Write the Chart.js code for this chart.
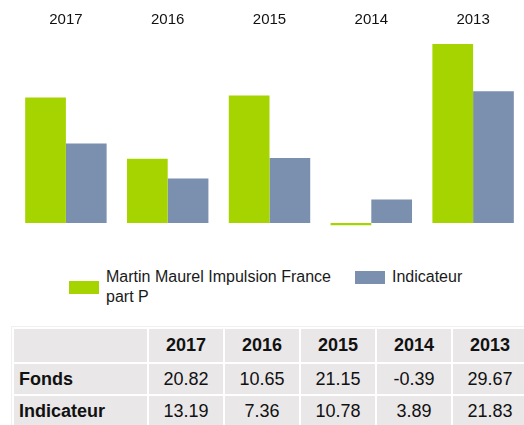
<!DOCTYPE html>
<html>
<head>
<meta charset="utf-8">
<script src="https://cdn.jsdelivr.net/npm/chart.js@4/dist/chart.umd.min.js"></script>
<style>
  html, body { margin: 0; padding: 0; background: #fff; overflow: hidden; }
  body { width: 524px; height: 425px; position: relative; font-family: "Liberation Sans", Arial, sans-serif; }
  #zone { position: absolute; left: 0; top: 0; width: 524px; height: 240px; }
  #legende { position: absolute; left: 69px; top: 267px; display: flex; align-items: flex-start; color: #1a1a1a; font-size: 16px; line-height: 20px; }
  .item { display: flex; align-items: center; }
  .carre { width: 30px; height: 13px; margin-right: 7px; flex: none; }
  #tableau { position: absolute; left: 11px; top: 326px; border-collapse: separate; border-spacing: 2px; border: 1px solid #f0f0f0; background: #fff; font-size: 18px; color: #111; table-layout: fixed; width: 517px; }
  #tableau td, #tableau th { background: #e9e7e8; padding: 0; text-align: center; }
  #tableau th { height: 33px; font-weight: bold; }
  #tableau td { height: 30px; }
  #tableau .lib { text-align: left; padding-left: 5px; font-weight: bold; width: 128px; }
  #tableau .col { width: 74px; }
</style>
</head>
<body>
<div id="zone"><canvas id="grafico"></canvas></div>
<div id="legende"></div>
<table id="tableau"></table>
<script>
// données
const annees = ['2017', '2016', '2015', '2014', '2013'];
const nomFonds = ['Martin Maurel Impulsion France', 'part P'];
const nomIndicateur = 'Indicateur';
const fonds = [20.82, 10.65, 21.15, -0.39, 29.67];
const indicateur = [13.19, 7.36, 10.78, 3.89, 21.83];
const couleurs = ['#a6d400', '#7a90ae'];

function montarGrafico() {
    const ctx = document.getElementById('grafico').getContext('2d');
    new Chart(ctx, {
        type: 'bar',
        data: {
            labels: annees,
            datasets: [
                { label: nomFonds.join(' '), data: fonds, backgroundColor: couleurs[0], borderWidth: 0 },
                { label: nomIndicateur, data: indicateur, backgroundColor: couleurs[1], borderWidth: 0 }
            ]
        },
        options: {
            responsive: true,
            maintainAspectRatio: false,
            animation: false,
            layout: { padding: { left: 15, right: 0, top: 4, bottom: 5 } },
            plugins: { legend: { display: false }, tooltip: { enabled: false } },
            datasets: { bar: { categoryPercentage: 0.8, barPercentage: 1 } },
            scales: {
                x: {
                    position: 'top',
                    grid: { display: false, drawTicks: false },
                    border: { display: false },
                    ticks: { color: '#111', padding: 7, font: { family: '"Liberation Sans", Arial', size: 15 } }
                },
                y: {
                    display: false,
                    min: -2,
                    max: 31
                }
            }
        }
    });
}

function montarLegende() {
    const el = document.getElementById('legende');
    el.innerHTML =
        '<div class="item" style="margin-right:24px"><span class="carre" style="background:' + couleurs[0] + '"></span><span>' + nomFonds.join('<br>') + '</span></div>' +
        '<div class="item"><span class="carre" style="background:' + couleurs[1] + '"></span><span>' + nomIndicateur + '</span></div>';
}

function montarTableau() {
    const t = document.getElementById('tableau');
    let html = '<tr><th class="lib"></th>' + annees.map(a => '<th class="col">' + a + '</th>').join('') + '</tr>';
    html += '<tr><td class="lib">Fonds</td>' + fonds.map(v => '<td>' + v.toFixed(2) + '</td>').join('') + '</tr>';
    html += '<tr><td class="lib">Indicateur</td>' + indicateur.map(v => '<td>' + v.toFixed(2) + '</td>').join('') + '</tr>';
    t.innerHTML = html;
}

montarGrafico();
montarLegende();
montarTableau();
</script>
</body>
</html>
